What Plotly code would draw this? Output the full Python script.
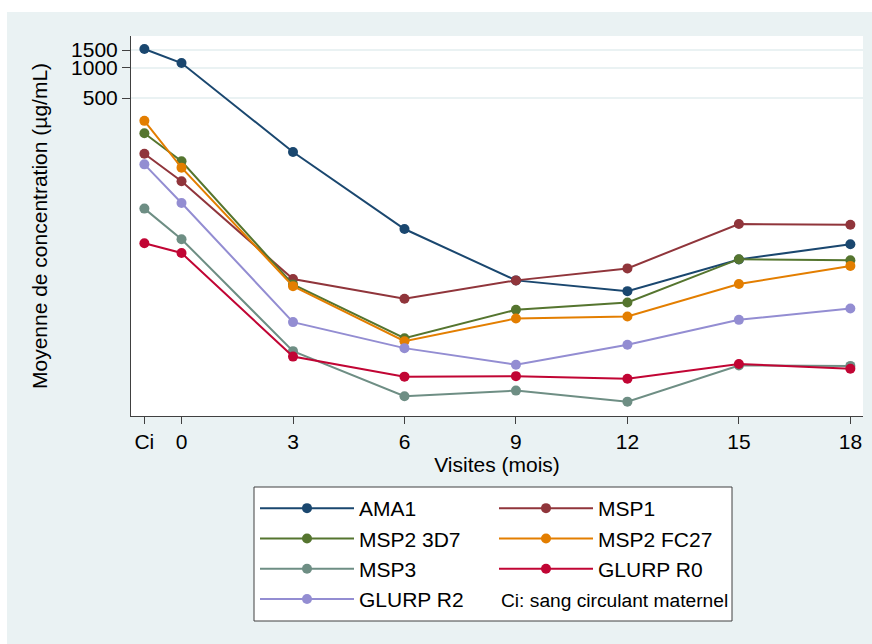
import plotly.graph_objects as go

# ---- data ----
visits = [-1, 0, 3, 6, 9, 12, 15, 18]          # -1 = Ci (sang circulant maternel)
visit_labels = ["Ci", "0", "3", "6", "9", "12", "15", "18"]

ama1      = [1535, 1113, 146, 25.1, 7.76, 6.07, 12.5, 17.7]
msp1      = [140, 74.8, 8.0, 5.10, 7.76, 10.2, 28.1, 27.7]
msp2_3d7  = [224, 118, 7.08, 2.07, 3.96, 4.69, 12.6, 12.3]
msp2_fc27 = [297, 102, 6.8, 1.93, 3.25, 3.40, 7.13, 10.8]
msp3      = [40.0, 19.9, 1.54, 0.55, 0.625, 0.486, 1.11, 1.10]
glurp_r0  = [18.1, 14.5, 1.36, 0.86, 0.87, 0.82, 1.15, 1.03]
glurp_r2  = [110, 45.5, 2.99, 1.65, 1.13, 1.78, 3.15, 4.08]

series_names = ["AMA1", "MSP1", "MSP2 3D7", "MSP2 FC27", "MSP3", "GLURP R0", "GLURP R2"]
series_values = [ama1, msp1, msp2_3d7, msp2_fc27, msp3, glurp_r0, glurp_r2]
series_colors = ["#1a476f", "#90353b", "#55752f", "#e37e00", "#6e8e84", "#c10534", "#938dd2"]
legend_column = ["legend", "legend2", "legend", "legend2", "legend", "legend2", "legend"]

y_ticks = [500, 1000, 1500]
note_text = "Ci: sang circulant maternel"

# ---- figure ----
FONT = "Arial, Liberation Sans, Helvetica, sans-serif"
PANEL = "#EAF2F3"
AXIS = "#404040"

fig = go.Figure()
for name, vals, col, lg in zip(series_names, series_values, series_colors, legend_column):
    fig.add_trace(go.Scatter(
        x=visits, y=vals, name=name, mode="lines+markers",
        line=dict(color=col, width=2),
        marker=dict(color=col, size=10, symbol="circle"),
        legend=lg,
    ))

W, H = 872, 644
ml, mr, mt, mb = 131, 9, 36, 228
PW, PH = W - ml - mr, H - mt - mb


def px_x(px):
    return (px - ml) / PW


def px_y(py):
    return 1 - (py - mt) / PH


legend_common = dict(
    orientation="v", xanchor="left", yanchor="top",
    bgcolor="rgba(0,0,0,0)", borderwidth=0,
    font=dict(family=FONT, size=21, color="#000000"),
    itemwidth=94, tracegroupgap=0,
)

fig.update_layout(
    width=W, height=H,
    margin=dict(l=ml, r=mr, t=mt, b=mb, pad=0),
    paper_bgcolor=PANEL,
    plot_bgcolor="white",
    font=dict(family=FONT, size=21, color="#000000"),
    showlegend=True,
    legend=dict(x=px_x(255), y=px_y(488), **legend_common),
    legend2=dict(x=px_x(494), y=px_y(488), **legend_common),
    xaxis=dict(
        range=[-1.36, 18.34],
        tickmode="array", tickvals=visits, ticktext=visit_labels,
        ticks="outside", ticklen=7, tickwidth=1, tickcolor=AXIS,
        showline=True, linecolor=AXIS, linewidth=1,
        showgrid=False, zeroline=False,
        tickfont=dict(size=21),
        title=dict(text="Visites (mois)", font=dict(size=21), standoff=4),
    ),
    yaxis=dict(
        type="log",
        range=[-0.456, 3.315],
        tickmode="array", tickvals=y_ticks, ticktext=[str(v) for v in y_ticks],
        ticks="outside", ticklen=8, tickwidth=1, tickcolor=AXIS,
        showline=True, linecolor=AXIS, linewidth=1,
        showgrid=True, gridcolor=PANEL, gridwidth=2,
        zeroline=False,
        tickfont=dict(size=21),
        title=dict(text="Moyenne de concentration (µg/mL)", font=dict(size=21), standoff=17),
    ),
    shapes=[
        # white outer frame strips (left and top) around the light panel
        dict(type="rect", xref="paper", yref="paper",
             x0=px_x(0), x1=px_x(7), y0=px_y(H), y1=px_y(0),
             fillcolor="white", line=dict(width=0), layer="below"),
        dict(type="rect", xref="paper", yref="paper",
             x0=px_x(0), x1=px_x(W), y0=px_y(12), y1=px_y(0),
             fillcolor="white", line=dict(width=0), layer="below"),
        # legend frame
        dict(type="rect", xref="paper", yref="paper",
             x0=px_x(254), x1=px_x(732), y0=px_y(621), y1=px_y(487),
             fillcolor="white", line=dict(color=AXIS, width=1), layer="below"),
    ],
    annotations=[
        dict(text=note_text, xref="paper", yref="paper",
             x=px_x(499), xanchor="left", y=px_y(600), yanchor="middle",
             showarrow=False, font=dict(family=FONT, size=19.2, color="#000000")),
    ],
)

fig.write_html(
    "out.html",
    config={"displayModeBar": False},
    post_script="document.body.style.margin='0';document.body.style.overflow='hidden';",
)
